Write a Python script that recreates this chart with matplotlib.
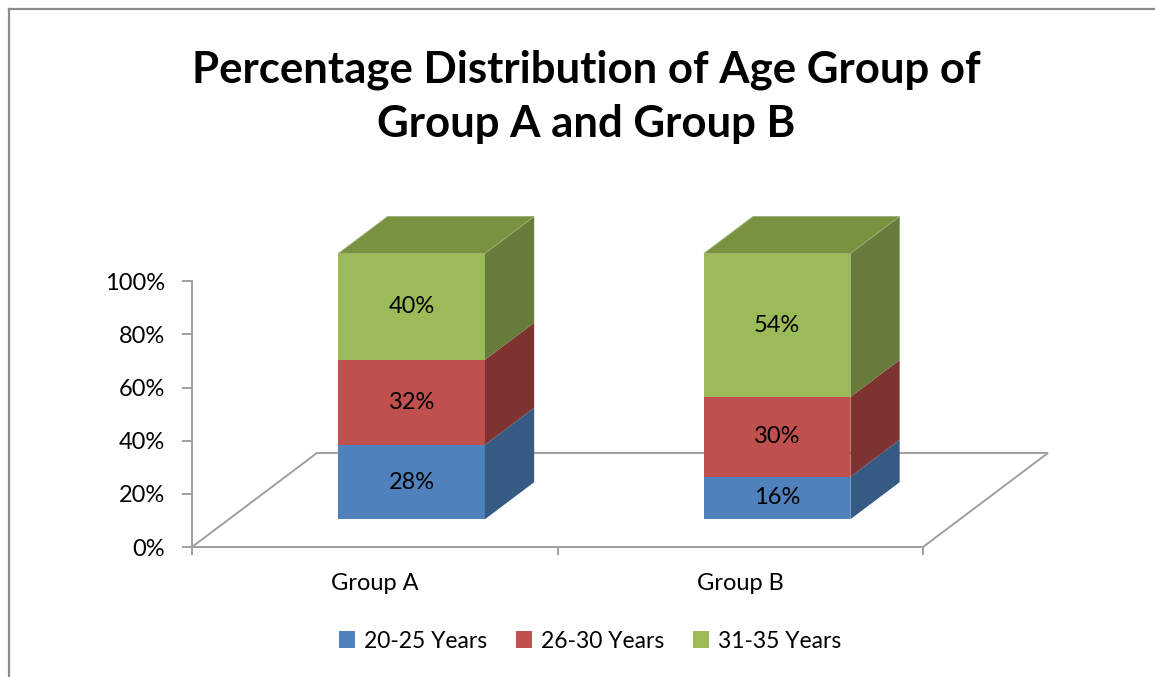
import matplotlib.pyplot as plt
from matplotlib.patches import Polygon, Patch
from matplotlib.lines import Line2D

plt.rcParams['font.family'] = ['Lato', 'DejaVu Sans']

# data
groups = ['Group A', 'Group B']
series_names = ['20-25 Years', '26-30 Years', '31-35 Years']
age_20_25 = [28, 16]
age_26_30 = [32, 30]
age_31_35 = [40, 54]
yticks = [0, 20, 40, 60, 80, 100]

front_cols = ['#4f81bd', '#c0504d', '#9bbb59']
side_cols = ['#375a84', '#7f3331', '#677c3a']
top_col = '#78923f'
axis_col = '#a0a0a0'
FS = 17

W, H = 1155, 677
fig = plt.figure(figsize=(W / 100, H / 100), dpi=100)

# plot area: front plane of the 3D box
ax = fig.add_axes([192 / W, (H - 547) / H, (923 - 192) / W, 265.7 / H])
ax.set_xlim(0, 2)
ax.set_ylim(0, 100)
ax.set_facecolor('none')

# depth of the floor in data units, and where the bars sit in it
dx, dy = 0.342, 35.4
f0, fd = 0.295, 0.394
bw = 0.401

# floor
floor = Polygon([(0, 0), (2, 0), (2 + dx, dy), (dx, dy)], closed=True,
                facecolor='white', edgecolor=axis_col, lw=1.4, clip_on=False, zorder=1)
ax.add_patch(floor)

series = [age_20_25, age_26_30, age_31_35]
for i in range(len(groups)):
    x0 = i + 0.5 - bw / 2 + f0 * dx
    x1 = x0 + bw
    base = f0 * dy
    ddx, ddy = fd * dx, fd * dy
    bottom = 0
    for k, vals in enumerate(series):
        v = vals[i]
        b = base + bottom
        t = b + v
        ax.add_patch(Polygon([(x0, b), (x1, b), (x1, t), (x0, t)], closed=True,
                             facecolor=front_cols[k], edgecolor='none', clip_on=False, zorder=3))
        ax.add_patch(Polygon([(x1, b), (x1 + ddx, b + ddy), (x1 + ddx, t + ddy), (x1, t)], closed=True,
                             facecolor=side_cols[k], edgecolor='none', clip_on=False, zorder=3))
        if k == len(series) - 1:
            ax.add_patch(Polygon([(x0, t), (x1, t), (x1 + ddx, t + ddy), (x0 + ddx, t + ddy)], closed=True,
                                 facecolor=top_col, edgecolor='#9aae78', lw=0.6, clip_on=False, zorder=3))
        ax.text((x0 + x1) / 2, (b + t) / 2, f'{v}%', ha='center', va='center',
                fontsize=FS, color='black', zorder=4)
        bottom += v

# axes styling
for s in ['top', 'right']:
    ax.spines[s].set_visible(False)
for s in ['left', 'bottom']:
    ax.spines[s].set_color(axis_col)
    ax.spines[s].set_linewidth(1.4)
    ax.spines[s].set_zorder(2)

ax.set_yticks(yticks)
ax.set_yticklabels([f'{v}%' for v in yticks])
ax.tick_params(axis='y', direction='out', length=7.5, width=1.4, color=axis_col,
               labelsize=FS, pad=12)

ax.set_xticks([0, 1, 2])
ax.set_xticklabels([])
ax.set_xticks([0.5, 1.5], minor=True)
ax.set_xticklabels(groups, minor=True)
ax.tick_params(axis='x', which='major', direction='out', length=6, width=1.4, color=axis_col)
ax.tick_params(axis='x', which='minor', length=0, labelsize=FS, pad=19)

# title
fig.text(586 / W, 1 - 82 / H, 'Percentage Distribution of Age Group of', ha='center', va='baseline',
         fontsize=31.5, fontweight='bold')
fig.text(586 / W, 1 - 137 / H, 'Group A and Group B', ha='center', va='baseline',
         fontsize=31.5, fontweight='bold')

# legend
handles = [Patch(facecolor=c, edgecolor='none') for c in front_cols]
fig.legend(handles, series_names, loc='center', bbox_to_anchor=(590 / W, 1 - 641 / H),
           ncol=3, frameon=False, fontsize=16.5, handlelength=0.7, handleheight=0.7,
           handletextpad=0.4, columnspacing=1.25)

# outer chart border (left and top only visible)
fig.add_artist(Line2D([9 / W, 9 / W], [0, 1 - 9 / H], color='#8c8c8c', lw=1.6))
fig.add_artist(Line2D([9 / W, 1], [1 - 9 / H, 1 - 9 / H], color='#8c8c8c', lw=1.6))

fig.savefig('out.png', dpi=100)
